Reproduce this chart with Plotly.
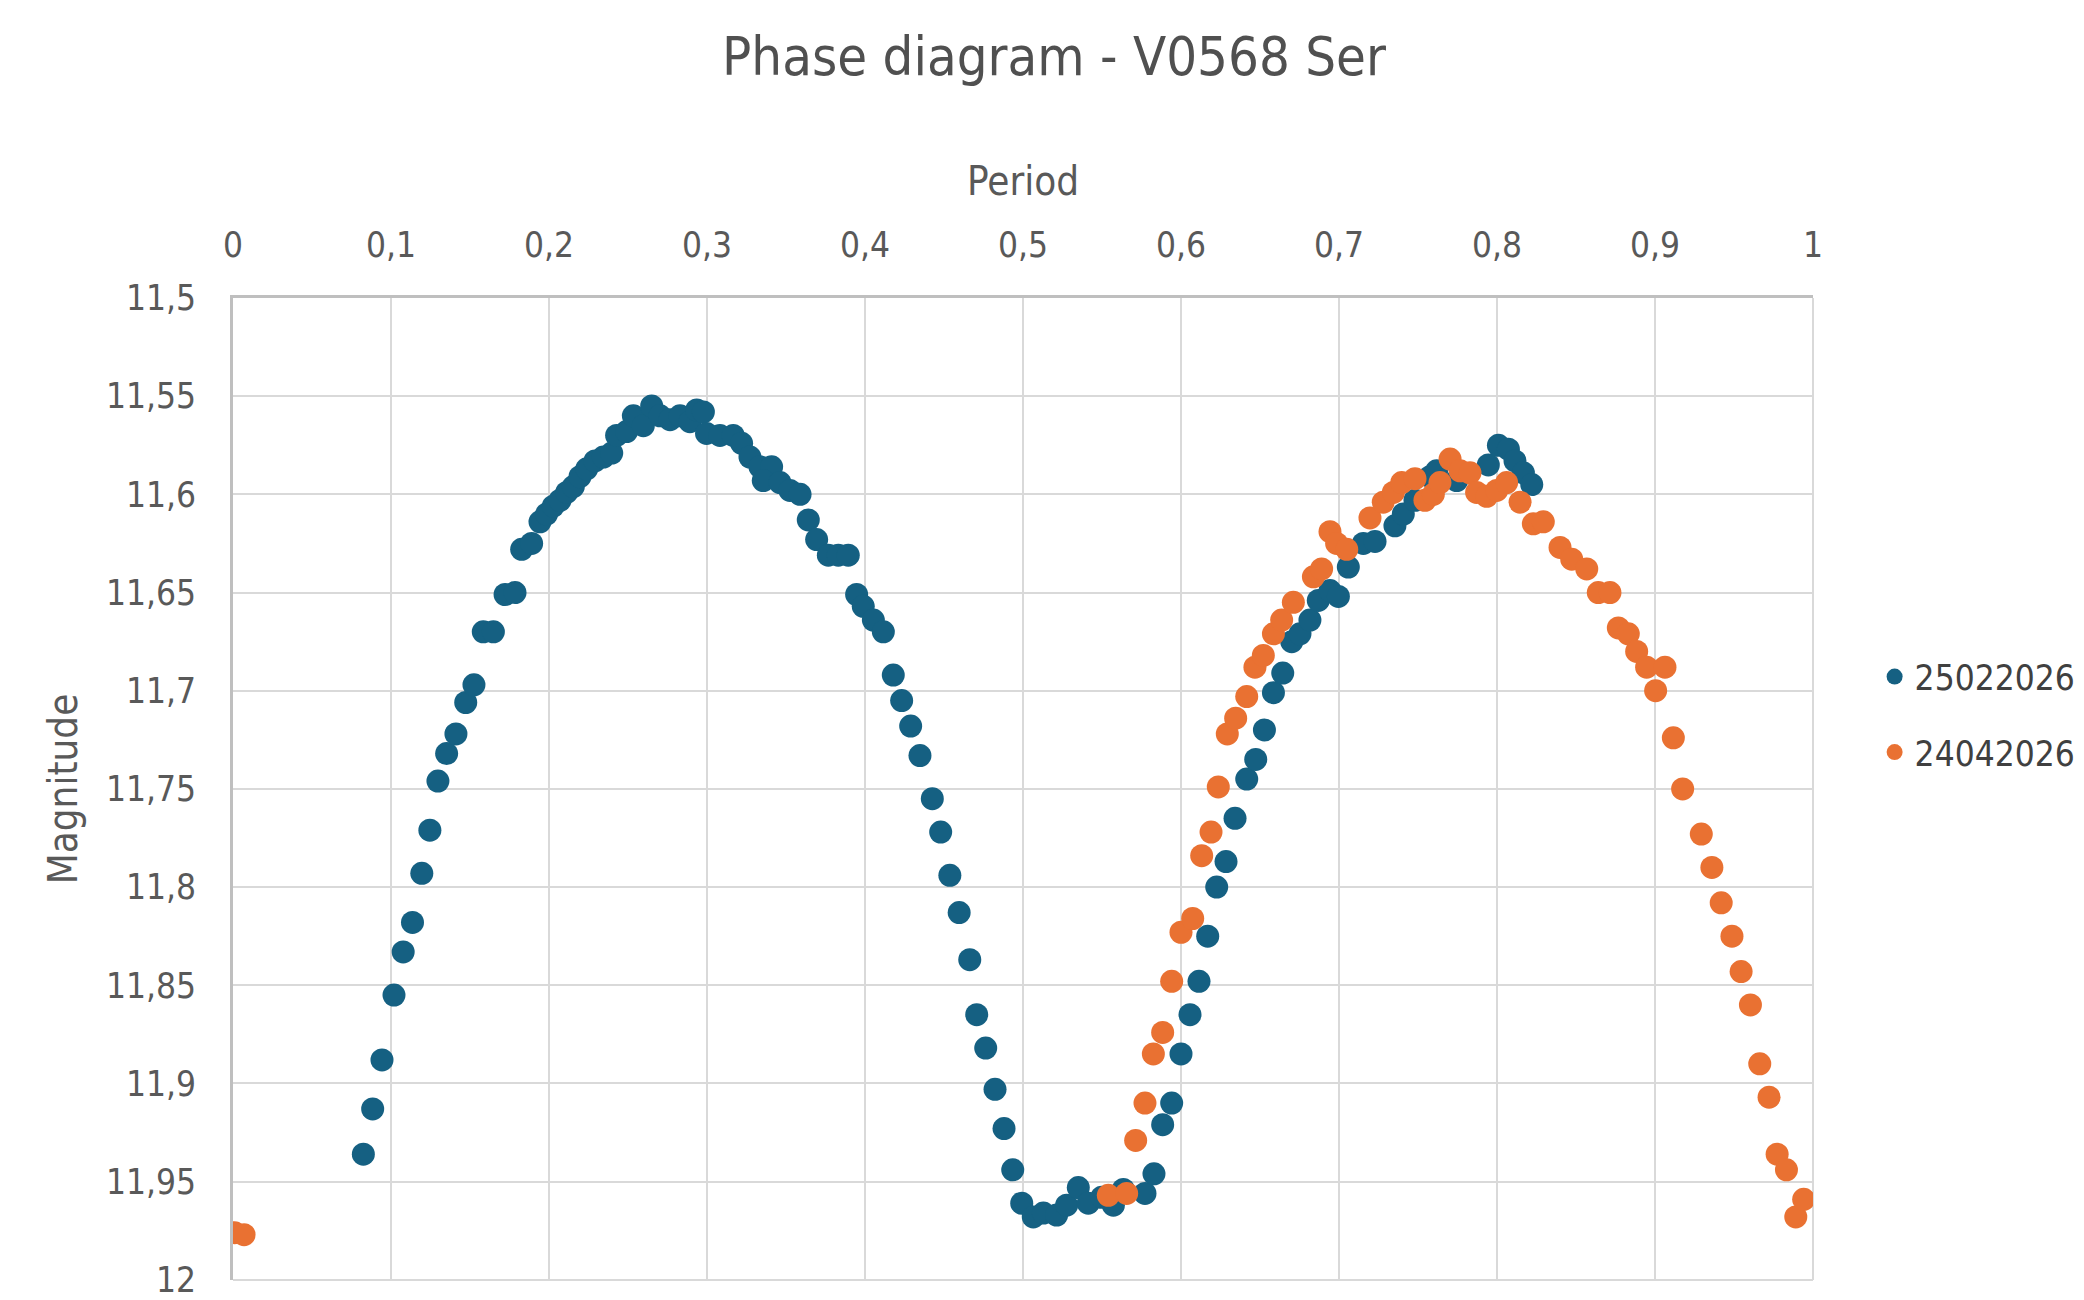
import plotly.graph_objects as go

# ---- data ----
blue_name = "25022026"
blue_phase = [0.0825, 0.0884, 0.0943, 0.1019, 0.1077, 0.1136, 0.1195, 0.1246, 0.1297, 0.1352,
              0.1411, 0.1473, 0.1525, 0.1584, 0.1648, 0.1722, 0.1785, 0.1827, 0.1890, 0.1943,
              0.1985, 0.2027, 0.2070, 0.2112, 0.2154, 0.2196, 0.2239, 0.2291, 0.2344, 0.2397,
              0.2428, 0.2491, 0.2534, 0.2597, 0.2650, 0.2703, 0.2766, 0.2829, 0.2892, 0.2935,
              0.2977, 0.2997, 0.3082, 0.3166, 0.3219, 0.3272, 0.3335, 0.3409, 0.3356, 0.3462,
              0.3525, 0.3589, 0.3641, 0.3694, 0.3768, 0.3831, 0.3894, 0.3947, 0.3989, 0.4053,
              0.4116, 0.4179, 0.4232, 0.4289, 0.4348, 0.4426, 0.4479, 0.4537, 0.4596, 0.4663,
              0.4707, 0.4764, 0.4823, 0.4880, 0.4935, 0.4992, 0.5065, 0.5129, 0.5213, 0.5276,
              0.5350, 0.5413, 0.5498, 0.5572, 0.5635, 0.5772, 0.5829, 0.5884, 0.5941, 0.6000,
              0.6057, 0.6114, 0.6169, 0.6226, 0.6285, 0.6342, 0.6416, 0.6473, 0.6528, 0.6585,
              0.6644, 0.6701, 0.6753, 0.6816, 0.6869, 0.6943, 0.6996, 0.7059, 0.7154, 0.7228,
              0.7354, 0.7407, 0.7481, 0.7576, 0.7618, 0.7745, 0.7945, 0.8009, 0.8072, 0.8114,
              0.8167, 0.8220]
blue_mag = [11.936, 11.913, 11.888, 11.855, 11.833, 11.818, 11.793, 11.771, 11.746, 11.732,
            11.722, 11.706, 11.697, 11.670, 11.670, 11.651, 11.650, 11.628, 11.625, 11.614,
            11.610, 11.606, 11.603, 11.599, 11.596, 11.591, 11.587, 11.583, 11.581, 11.579,
            11.570, 11.568, 11.560, 11.565, 11.555, 11.560, 11.562, 11.560, 11.563, 11.557,
            11.558, 11.569, 11.570, 11.570, 11.574, 11.581, 11.586, 11.586, 11.593, 11.594,
            11.598, 11.600, 11.613, 11.623, 11.631, 11.631, 11.631, 11.651, 11.657, 11.664,
            11.670, 11.692, 11.705, 11.718, 11.733, 11.755, 11.772, 11.794, 11.813, 11.837,
            11.865, 11.882, 11.903, 11.923, 11.944, 11.961, 11.968, 11.966, 11.967, 11.962,
            11.953, 11.961, 11.958, 11.962, 11.954, 11.956, 11.946, 11.921, 11.910, 11.885,
            11.865, 11.848, 11.825, 11.800, 11.787, 11.765, 11.745, 11.735, 11.720, 11.701,
            11.691, 11.675, 11.671, 11.664, 11.654, 11.649, 11.652, 11.637, 11.625, 11.624,
            11.616, 11.610, 11.603, 11.591, 11.588, 11.593, 11.585, 11.575, 11.577, 11.583,
            11.589, 11.595]

orange_name = "24042026"
orange_phase = [0.001, 0.007, 0.5540, 0.5656, 0.5713, 0.5772, 0.5825, 0.5884, 0.5941, 0.6000,
                0.6074, 0.6131, 0.6190, 0.6236, 0.6293, 0.6346, 0.6416, 0.6468, 0.6521, 0.6585,
                0.6637, 0.6711, 0.6838, 0.6890, 0.6943, 0.6985, 0.7049, 0.7196, 0.7280, 0.7344,
                0.7397, 0.7481, 0.7544, 0.7597, 0.7639, 0.7703, 0.7766, 0.7829, 0.7871, 0.7935,
                0.7998, 0.8061, 0.8146, 0.8230, 0.8293, 0.8399, 0.8473, 0.8568, 0.8641, 0.8715,
                0.8768, 0.8831, 0.8884, 0.8947, 0.9004, 0.9063, 0.9116, 0.9175, 0.9293, 0.9360,
                0.9419, 0.9487, 0.9545, 0.9604, 0.9663, 0.9722, 0.9773, 0.9832, 0.9891, 0.9941]
orange_mag = [11.976, 11.977, 11.957, 11.956, 11.929, 11.910, 11.885, 11.874, 11.848, 11.823,
              11.816, 11.784, 11.772, 11.749, 11.722, 11.714, 11.703, 11.688, 11.682, 11.671,
              11.664, 11.655, 11.642, 11.638, 11.619, 11.625, 11.628, 11.612, 11.604, 11.599,
              11.594, 11.592, 11.603, 11.600, 11.594, 11.582, 11.588, 11.589, 11.599, 11.601,
              11.598, 11.594, 11.604, 11.615, 11.614, 11.627, 11.633, 11.638, 11.650, 11.650,
              11.668, 11.671, 11.680, 11.688, 11.700, 11.688, 11.724, 11.750, 11.773, 11.790,
              11.808, 11.825, 11.843, 11.860, 11.890, 11.907, 11.936, 11.944, 11.968, 11.959]

x_tickvals = [0, 0.1, 0.2, 0.3, 0.4, 0.5, 0.6, 0.7, 0.8, 0.9, 1]
x_ticktext = ["0", "0,1", "0,2", "0,3", "0,4", "0,5", "0,6", "0,7", "0,8", "0,9", "1"]
y_tickvals = [11.5, 11.55, 11.6, 11.65, 11.7, 11.75, 11.8, 11.85, 11.9, 11.95, 12]
y_ticktext = ["11,5", "11,55", "11,6", "11,65", "11,7", "11,75", "11,8", "11,85", "11,9", "11,95", "12"]

title_text = "Phase diagram - V0568 Ser"
x_title = "Period"
y_title = "Magnitude"

# ---- style ----
FONT = "Liberation Sans Narrow, Arial Narrow, DejaVu Sans Condensed, sans-serif"
TXT = "#595959"
BLUE = "#156082"
ORANGE = "#E97132"
GRID = "#d9d9d9"
# the page body adds an 8px offset; the figure is sized/positioned to compensate
OFF = 8
W, H = 2084 - OFF, 1300 - OFF
L = 233 - OFF
T = 298 - OFF
R = W - (1813 - OFF)
B = H - (1280 - OFF)

fig = go.Figure()
fig.add_trace(go.Scatter(x=blue_phase, y=blue_mag, mode="markers", name=blue_name,
                         legendgroup="a",
                         marker=dict(size=23, color=BLUE, line=dict(width=0))))
fig.add_trace(go.Scatter(x=orange_phase, y=orange_mag, mode="markers", name=orange_name,
                         legendgroup="b",
                         marker=dict(size=23, color=ORANGE, line=dict(width=0))))

# light frame on the right and bottom edges of the plot area (as the chart's outer gridlines)
fig.add_shape(type="line", xref="paper", yref="paper", x0=1, x1=1, y0=0, y1=1,
              line=dict(color=GRID, width=2), layer="below")
fig.add_shape(type="line", xref="paper", yref="paper", x0=0, x1=1, y0=0, y1=0,
              line=dict(color=GRID, width=2), layer="below")

fig.update_layout(
    width=W, height=H,
    margin=dict(l=L, r=R, t=T, b=B, autoexpand=False),
    paper_bgcolor="white", plot_bgcolor="white",
    font=dict(family=FONT, color=TXT, size=35),
    title=dict(text=title_text, x=(1054 - OFF) / W, xref="container", xanchor="center",
               y=1 - (56 - OFF) / H, yref="container", yanchor="middle",
               font=dict(size=54, color="#505050", family=FONT)),
    showlegend=True,
    legend=dict(x=1.039, xanchor="left", y=0.576, yanchor="middle",
                font=dict(size=35, color="#404040", family=FONT),
                tracegroupgap=27, traceorder="grouped",
                bgcolor="rgba(0,0,0,0)"),
    xaxis=dict(range=[0, 1], side="top", tickvals=x_tickvals, ticktext=x_ticktext,
               showgrid=True, gridcolor=GRID, gridwidth=2,
               showline=True, linecolor="#bfbfbf", linewidth=3,
               zeroline=False, ticks="", ticklabelstandoff=24,
               tickfont=dict(size=35, color=TXT, family=FONT),
               title=dict(text=x_title, font=dict(size=40, color=TXT, family=FONT), standoff=18),
               automargin=False, fixedrange=True),
    yaxis=dict(range=[12.0001, 11.5], tickvals=y_tickvals, ticktext=y_ticktext,
               showgrid=True, gridcolor=GRID, gridwidth=2,
               showline=True, linecolor="#bfbfbf", linewidth=3,
               zeroline=False, ticks="", ticklabelstandoff=27,
               ticklabeloverflow="allow",
               tickfont=dict(size=35, color=TXT, family=FONT),
               title=dict(text=y_title, font=dict(size=40, color=TXT, family=FONT), standoff=16),
               automargin=False, fixedrange=True),
)

fig.write_html("out.html")
